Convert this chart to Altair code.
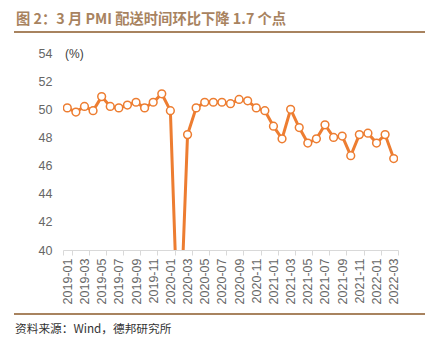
import altair as alt
import pandas as pd

months = [
    "2019-01","2019-02","2019-03","2019-04","2019-05","2019-06","2019-07","2019-08","2019-09","2019-10","2019-11","2019-12",
    "2020-01","2020-02","2020-03","2020-04","2020-05","2020-06","2020-07","2020-08","2020-09","2020-10","2020-11","2020-12",
    "2021-01","2021-02","2021-03","2021-04","2021-05","2021-06","2021-07","2021-08","2021-09","2021-10","2021-11","2021-12",
    "2022-01","2022-02","2022-03",
]
values = [
    50.1, 49.8, 50.2, 49.9, 50.9, 50.2, 50.1, 50.3, 50.5, 50.1, 50.5, 51.1,
    49.9, 32.1, 48.2, 50.1, 50.5, 50.5, 50.5, 50.4, 50.7, 50.6, 50.1, 49.9,
    48.8, 47.9, 50.0, 48.7, 47.6, 47.9, 48.9, 48.0, 48.1, 46.7, 48.2, 48.3,
    47.6, 48.2, 46.5,
]
tick_labels = months[::2]
y_ticks = [40, 42, 44, 46, 48, 50, 52, 54]

title_text = "图 2：3 月 PMI 配送时间环比下降 1.7 个点"
source_text = "资料来源：Wind，德邦研究所"
unit_text = "(%)"

df = pd.DataFrame({"month": months, "value": values})

ORANGE = "#ED7D31"
BROWN = "#A8835F"
GRAY = "#666666"
CJK = "Noto Sans CJK SC"
LAT = "Liberation Sans"

x_enc = alt.X(
    "month:O",
    sort=months,
    scale=alt.Scale(type="band", paddingInner=0, paddingOuter=0),
    axis=alt.Axis(
        title=None,
        values=tick_labels,
        labelAngle=-90,
        labelFont=LAT,
        labelFontSize=12.5,
        labelColor=GRAY,
        labelPadding=3,
        tickBand="extent",
        tickColor="#D9D9D9",
        tickSize=5,
        domainColor="#D9D9D9",
        grid=False,
    ),
)
y_enc = alt.Y(
    "value:Q",
    scale=alt.Scale(domain=[40, 54], nice=False, zero=False),
    axis=alt.Axis(
        title=None,
        values=y_ticks,
        labelFont=LAT,
        labelFontSize=12.5,
        labelColor=GRAY,
        labelPadding=11,
        ticks=False,
        domain=False,
        grid=False,
    ),
)

base = alt.Chart(df)
line = base.mark_line(color=ORANGE, strokeWidth=3, clip=True).encode(x=x_enc, y=y_enc)
points = base.mark_point(
    shape="circle", filled=True, fill="white", stroke=ORANGE, strokeWidth=1.5, size=60, opacity=1, clip=True
).transform_filter("datum.value >= 40").encode(x=x_enc, y=y_enc)

title = alt.Chart(pd.DataFrame({"t": [title_text]})).mark_text(
    font=CJK, fontSize=14.3, fontWeight="bold", color=BROWN, align="left", baseline="alphabetic"
).encode(text="t:N", x=alt.value(-47), y=alt.value(-29))

top_rule = alt.Chart(pd.DataFrame({"a": [0]})).mark_rule(color=BROWN, strokeWidth=2).encode(
    x=alt.value(-49), x2=alt.value(362), y=alt.value(-21)
)
bottom_rule = alt.Chart(pd.DataFrame({"a": [0]})).mark_rule(color=BROWN, strokeWidth=2).encode(
    x=alt.value(-49), x2=alt.value(362), y=alt.value(261)
)
source = alt.Chart(pd.DataFrame({"t": [source_text]})).mark_text(
    font=CJK, fontSize=11.7, color="#333333", align="left", baseline="alphabetic"
).encode(text="t:N", x=alt.value(-48), y=alt.value(280))
unit = alt.Chart(pd.DataFrame({"t": [unit_text]})).mark_text(
    font=LAT, fontSize=12, color="#404040", align="left", baseline="middle"
).encode(text="t:N", x=alt.value(2), y=alt.value(1))

chart = alt.layer(line, points, title, top_rule, bottom_rule, source, unit).properties(
    width=335,
    height=197,
    autosize=alt.AutoSizeParams(type="none"),
    padding={"left": 63, "top": 53, "right": 38, "bottom": 87},
    background="white",
).configure_view(stroke=None)

chart.save("out.html", embed_options={"renderer": "svg", "actions": False})
